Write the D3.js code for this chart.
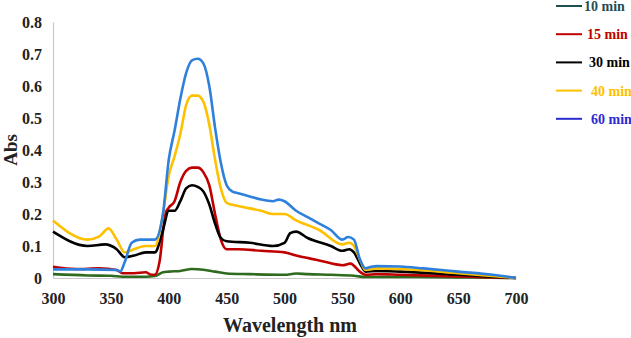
<!DOCTYPE html>
<html>
<head>
<meta charset="utf-8">
<script src="https://cdn.jsdelivr.net/npm/d3@7"></script>
<style>
body { margin: 0; background: #fff; }
text { font-family: "Liberation Serif", "Times New Roman", serif; font-weight: bold; }
</style>
</head>
<body>
<div class="central"></div>
<script>
//Size of page
var width = 631,
	height = 338;

//Wavelengths (nm) per series, with the absorbance
var nm10 = [300, 330, 350, 360, 380, 388, 395, 400, 410, 420, 430, 440, 450, 470, 500, 510, 520, 540, 560, 570, 600, 650, 700];
var abs10 = [0.012, 0.008, 0.007, 0.004, 0.004, 0.006, 0.018, 0.02, 0.022, 0.028, 0.026, 0.02, 0.014, 0.012, 0.01, 0.014, 0.012, 0.01, 0.007, 0.003, 0.003, 0.002, 0];

var nm15 = [300, 320, 340, 355, 360, 370, 380, 385, 388, 392, 397, 400, 405, 410, 415, 420, 425, 430, 435, 440, 445, 450, 460, 480, 500, 510, 530, 550, 557, 565, 570, 580, 600, 650, 700];
var abs15 = [0.035, 0.028, 0.03, 0.025, 0.015, 0.015, 0.018, 0.01, 0.01, 0.05, 0.2, 0.22, 0.24, 0.3, 0.335, 0.345, 0.345, 0.33, 0.29, 0.2, 0.12, 0.09, 0.09, 0.085, 0.08, 0.07, 0.055, 0.04, 0.045, 0.02, 0.01, 0.012, 0.01, 0.005, 0];

var nm30 = [300, 330, 345, 355, 362, 370, 380, 388, 395, 400, 405, 410, 415, 420, 425, 430, 435, 440, 445, 450, 470, 490, 500, 505, 510, 520, 540, 550, 556, 560, 566, 570, 580, 600, 650, 700];
var abs30 = [0.145, 0.1, 0.105, 0.09, 0.065, 0.07, 0.08, 0.08, 0.15, 0.21, 0.21, 0.24, 0.28, 0.29, 0.285, 0.27, 0.23, 0.17, 0.125, 0.115, 0.11, 0.1, 0.11, 0.14, 0.145, 0.125, 0.1, 0.085, 0.09, 0.08, 0.04, 0.02, 0.022, 0.02, 0.01, 0];

var nm40 = [300, 330, 340, 348, 355, 362, 370, 380, 388, 395, 400, 405, 410, 415, 420, 425, 430, 435, 440, 445, 450, 460, 480, 490, 500, 510, 530, 550, 556, 560, 566, 570, 580, 600, 650, 700];
var abs40 = [0.18, 0.12, 0.13, 0.155, 0.12, 0.08, 0.09, 0.1, 0.1, 0.2, 0.32, 0.38, 0.45, 0.54, 0.57, 0.57, 0.55, 0.48, 0.37, 0.28, 0.235, 0.225, 0.21, 0.2, 0.2, 0.18, 0.15, 0.105, 0.11, 0.1, 0.05, 0.025, 0.03, 0.028, 0.015, 0];

var nm60 = [300, 330, 355, 358, 362, 368, 375, 388, 395, 400, 405, 410, 415, 420, 425, 430, 435, 440, 445, 450, 455, 460, 470, 480, 490, 495, 500, 510, 520, 530, 540, 550, 555, 560, 565, 570, 575, 580, 600, 620, 650, 680, 700];
var abs60 = [0.027, 0.027, 0.025, 0.02, 0.05, 0.11, 0.12, 0.12, 0.2, 0.37, 0.46, 0.56, 0.64, 0.68, 0.685, 0.67, 0.6, 0.47, 0.36, 0.29, 0.27, 0.265, 0.255, 0.245, 0.24, 0.245, 0.24, 0.21, 0.19, 0.17, 0.15, 0.12, 0.128, 0.12, 0.06, 0.03, 0.035, 0.037, 0.036, 0.03, 0.02, 0.01, 0];

var seriesNames = ["10 min", "15 min", "30 min", "40 min", "60 min"];
var lineColors = ["#2e6b1e", "#c00000", "#000000", "#ffc000", "#2f80dc"];
var legendColors = ["#1f4f4f", "#c00000", "#000000", "#ffc000", "#2a2ad0"];

var xTicks = [300, 350, 400, 450, 500, 550, 600, 650, 700];
var yTicks = [0, 0.1, 0.2, 0.3, 0.4, 0.5, 0.6, 0.7, 0.8];

var series = [
	{name: seriesNames[0], nm: nm10, abs: abs10},
	{name: seriesNames[1], nm: nm15, abs: abs15},
	{name: seriesNames[2], nm: nm30, abs: abs30},
	{name: seriesNames[3], nm: nm40, abs: abs40},
	{name: seriesNames[4], nm: nm60, abs: abs60}
];

//Scales
var x = d3.scaleLinear().domain([300, 700]).range([53, 516]);
var y = d3.scaleLinear().domain([0, 0.8]).range([278, 22]);

var svg = d3.select(".central")
			.append("svg")
			.attr("width", width)
			.attr("height", height);

//Axes, gray lines with bold serif labels
var xAxis = svg.append("g")
			.attr("transform", "translate(0," + y(0) + ")")
			.call(d3.axisBottom(x).tickValues(xTicks).tickSize(0).tickPadding(15).tickFormat(d3.format("d")));
var yAxis = svg.append("g")
			.attr("transform", "translate(" + x(300) + ",0)")
			.call(d3.axisLeft(y).tickValues(yTicks).tickSize(0).tickPadding(11)
				.tickFormat(function(d){ return d == 0 ? "0" : d3.format(".1f")(d); }));

[xAxis, yAxis].forEach(function(a){
	a.select(".domain").attr("stroke", "#c8c8c8").attr("stroke-width", 1.2);
	a.selectAll("text")
		.style("font-family", "'Liberation Serif', serif")
		.style("font-weight", "bold")
		.style("font-size", "16px")
		.attr("fill", "#222");
});

//Lines
var line = d3.line()
			.x(function(d){ return x(d[0]); })
			.y(function(d){ return y(d[1]); })
			.curve(d3.curveMonotoneX);

svg.selectAll(".spec")
	.data(series)
	.enter()
	.append("path")
	.attr("class", "spec")
	.attr("fill", "none")
	.attr("stroke", function(d, i){ return lineColors[i]; })
	.attr("stroke-width", 2.6)
	.attr("stroke-linejoin", "round")
	.attr("d", function(d){ return line(d3.zip(d.nm, d.abs)); });

//Legend
var legend = svg.selectAll(".leg")
			.data(seriesNames)
			.enter()
			.append("g")
			.attr("class", "leg")
			.attr("transform", function(d, i){ return "translate(556," + (6 + i * 28.2) + ")"; });
legend.append("line")
	.attr("x1", 0).attr("x2", 26)
	.attr("stroke", function(d, i){ return legendColors[i]; })
	.attr("stroke-width", 2);
legend.append("text")
	.attr("x", function(d, i){ return [28, 31, 33, 35, 35][i]; })
	.attr("dy", "0.35em")
	.style("font-size", "14px")
	.attr("fill", function(d, i){ return legendColors[i]; })
	.text(function(d){ return d; });

//Axis titles
svg.append("text")
	.attr("x", 290).attr("y", 332)
	.attr("text-anchor", "middle")
	.style("font-size", "20px")
	.attr("fill", "#222")
	.text("Wavelength nm");
svg.append("text")
	.attr("transform", "translate(17,150) rotate(-90)")
	.attr("text-anchor", "middle")
	.style("font-size", "19px")
	.attr("fill", "#222")
	.text("Abs");
</script>
</body>
</html>
